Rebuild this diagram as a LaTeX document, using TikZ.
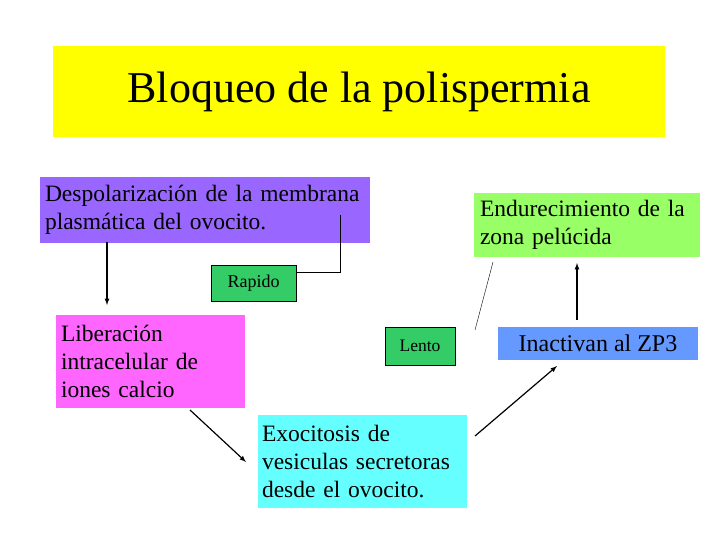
\documentclass[tikz,border=0pt]{standalone}
\usepackage{fontspec}
\setmainfont{Liberation Serif}
\usetikzlibrary{arrows}
\definecolor{amarillo}{HTML}{FFFF00}
\definecolor{morado}{HTML}{9966FF}
\definecolor{verde}{HTML}{99FF66}
\definecolor{verdeosc}{HTML}{33CC66}
\definecolor{rosa}{HTML}{FF66FF}
\definecolor{azul}{HTML}{6699FF}
\definecolor{celeste}{HTML}{66FFFF}
\tikzset{
  font={\fontsize{23.5pt}{28pt}\selectfont}}
\begin{document}
\begin{tikzpicture}[x=1pt, y=-1pt, line width=1.2pt, every node/.style={inner sep=0pt, outer sep=0pt}]
  \useasboundingbox (0,0) rectangle (720,540);
  \node (tt) [fill=amarillo, shape=rectangle, minimum width=612pt, minimum height=91pt, font={\fontsize{44pt}{48pt}\selectfont}] at (359,92) {Bloqueo de la polispermia};
  \node (dp) [fill=morado, shape=rectangle, minimum width=330pt, minimum height=65pt, text width=320pt, align=left] at (205,210) {Despolarización de la membrana\\plasmática del ovocito.};
  \node (en) [fill=verde, shape=rectangle, minimum width=226pt, minimum height=64pt, text width=214pt, align=left] at (587,225) {Endurecimiento de la\\zona pelúcida};
  \node (ra) [draw, thin, fill=verdeosc, shape=rectangle, minimum width=85pt, minimum height=36pt, font={\fontsize{18pt}{20pt}\selectfont}] at (253.5,283) {Rapido};
  \node (li) [fill=rosa, shape=rectangle, minimum width=189pt, minimum height=93pt, text width=179pt, align=left] at (150.5,361.5) {Liberación\\intracelular de\\iones calcio};
  \node (le) [draw, thin, fill=verdeosc, shape=rectangle, minimum width=70pt, minimum height=38pt, font={\fontsize{17.5pt}{20pt}\selectfont}] at (420,346) {Lento};
  \node (in) [fill=azul, shape=rectangle, minimum width=200pt, minimum height=33pt, font={\fontsize{24pt}{28pt}\selectfont}] at (598,343.5) {Inactivan al ZP3};
  \node (ex) [fill=celeste, shape=rectangle, minimum width=209pt, minimum height=93pt, text width=201pt, align=left] at (362.5,461.5) {Exocitosis de\\vesiculas secretoras\\desde el ovocito.};
  \coordinate (d1) at (107,242);
  \coordinate (d2) at (107,305);
  \coordinate (dq) at (340,215);
  \coordinate (dr) at (340,272);
  \coordinate (rr) at (296,272);
  \coordinate (l1) at (190,410);
  \coordinate (l2) at (246,462);
  \coordinate (e1) at (475,436);
  \coordinate (e2) at (557,366);
  \coordinate (n1) at (475,330);
  \coordinate (n2) at (493,262);
  \coordinate (i1) at (577,320);
  \coordinate (i2) at (577,263);
  \draw[-latex] (d1) -- (d2);
  \draw[thin] (dq) -- (dr) -- (rr);
  \draw[-latex] (l1) -- (l2);
  \draw[-latex] (e1) -- (e2);
  \draw[thin] (n1) -- (n2);
  \draw[-latex] (i1) -- (i2);
\end{tikzpicture}
\end{document}
